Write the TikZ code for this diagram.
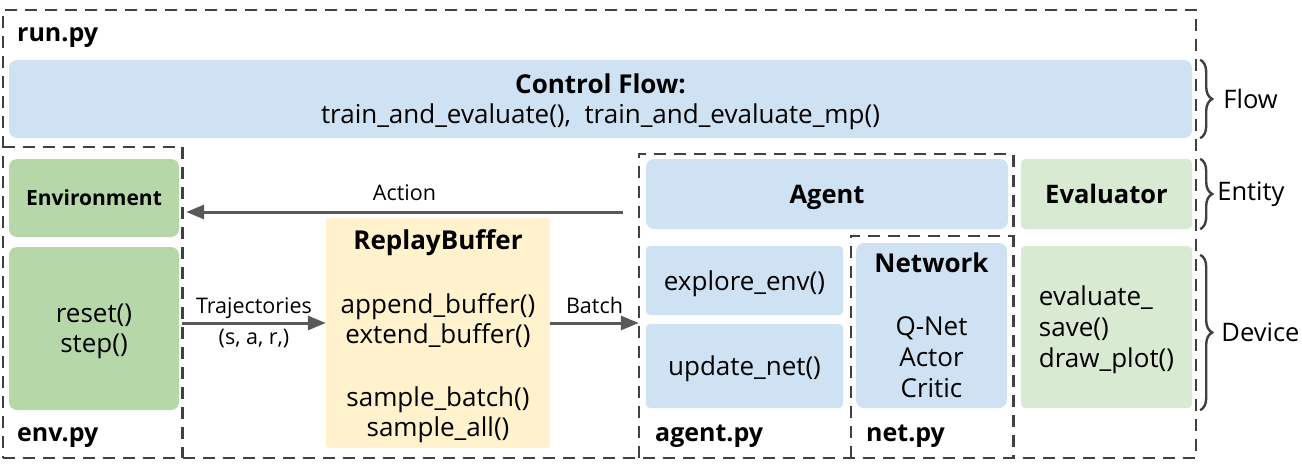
\documentclass[tikz,border=0pt]{standalone}
\usepackage{fontspec}
\setmainfont{Open Sans}
\usetikzlibrary{arrows.meta,decorations.pathreplacing,positioning}

\definecolor{flowblue}{HTML}{CFE2F3}
\definecolor{envgreen}{HTML}{B6D7A8}
\definecolor{evalgreen}{HTML}{D9EAD3}
\definecolor{bufyellow}{HTML}{FFF2CC}
\definecolor{linegray}{HTML}{404040}
\definecolor{arrgray}{HTML}{595959}

\tikzset{
  filebox/.style={draw=linegray, line width=2.6pt, dash pattern=on 12pt off 8pt, inner sep=0pt},
  scopebox/.style={inner sep=0pt},
  block/.style={rounded corners=8pt, inner sep=0pt, align=center, text depth=0pt, font=\fontsize{26}{30}\selectfont},
  filename/.style={anchor=base west, inner sep=0pt, font=\bfseries\fontsize{25}{30}\selectfont},
  flowarrow/.style={draw=arrgray, line width=3pt, -{Triangle[length=18pt,width=14pt]}},
  edgelabel/.style={inner sep=0pt, font=\fontsize{21.5}{26}\selectfont},
  sidebrace/.style={draw=linegray, line width=2.4pt, decorate, decoration={brace, amplitude=12pt}},
  sidelabel/.style={inner sep=0pt, font=\fontsize{25.5}{30}\selectfont},
}

\begin{document}
\begin{tikzpicture}[x=1pt, y=-1pt]
    \useasboundingbox (0,0) rectangle (1302,466);

    % file scopes
    \node[filebox, minimum width=1193, minimum height=448] (runpy) at (599.5,234) {};
    \node[scopebox, minimum width=179, minimum height=311] (envpy) at (92.5,302.5) {};
    \node[scopebox, minimum width=374, minimum height=304] (agentpy) at (826,306) {};
    \node[scopebox, minimum width=162, minimum height=222] (netpy) at (932,347) {};
    \draw[filebox] (envpy.north west) -- (envpy.north east) -- (envpy.south east);
    \draw[filebox] (agentpy.south west) -- (agentpy.north west) -- (agentpy.north east) -- (agentpy.south east);
    \draw[filebox] (netpy.south west) -- (netpy.north west) -- (netpy.north east);

    \node[filename] (runname) at (17,41) {run.py};
    \node[filename] (envname) at (17,441) {env.py};
    \node[filename] (agentname) at (655,441) {agent.py};
    \node[filename] (netname) at (866,441) {net.py};

    % flow
    \node[block, fill=flowblue, minimum width=1183, minimum height=78] (control) at (600.5,99)
        {\textbf{Control Flow:}\\train\_and\_evaluate(),\ \ train\_and\_evaluate\_mp()};

    % environment
    \node[block, fill=envgreen, minimum width=170, minimum height=78,
          font=\bfseries\fontsize{21}{26}\selectfont] (env) at (94,198) {Environment};
    \node[block, fill=envgreen, minimum width=170, minimum height=163] (envfn) at (94,328.5)
        {reset()\\step()};

    % replay buffer
    \node[block, fill=bufyellow, rounded corners=3pt, minimum width=224, minimum height=230] (replay) at (438,333)
        {\textbf{ReplayBuffer}\\[34pt]append\_buffer()\\extend\_buffer()\\[33pt]sample\_batch()\\sample\_all()};

    % agent
    \node[block, fill=flowblue, minimum width=362, minimum height=70,
          font=\bfseries\fontsize{25.5}{30}\selectfont] (agent) at (827,194) {Agent};
    \node[block, fill=flowblue, rounded corners=4pt, minimum width=197, minimum height=69] (explore) at (744.5,280.5)
        {explore\_env()};
    \node[block, fill=flowblue, rounded corners=4pt, minimum width=197, minimum height=84] (update) at (744.5,366)
        {update\_net()};
    \node[block, fill=flowblue, minimum width=151, minimum height=165,
          font=\fontsize{26}{31}\selectfont] (network) at (931.5,325.5)
        {\textbf{Network}\\[32pt]Q-Net\\Actor\\Critic};

    % evaluator
    \node[block, fill=evalgreen, rounded corners=4pt, minimum width=171, minimum height=70,
          font=\bfseries\fontsize{25.5}{30}\selectfont] (evaluator) at (1106.5,194) {Evaluator};
    \node[block, fill=evalgreen, rounded corners=4pt, minimum width=171, minimum height=162, align=left,
          font=\fontsize{26}{31}\selectfont] (evalfn) at (1106.5,327)
        {evaluate\_\\save()\\draw\_plot()};

    % data flow
    \coordinate (act) at (0,212);
    \coordinate (traj) at (0,323);
    \path (agentpy.west |- act) ++(-16,0) coordinate (actstart);
    \path (envpy.east |- act) ++(4,0) coordinate (actend);
    \draw[flowarrow] (actstart) -- (actend)
        node[edgelabel, midway, above=10pt] (actlbl) {Action};
    \draw[flowarrow] (envpy.east |- traj) -- (replay.west |- traj)
        node[edgelabel, midway, above=3pt] (trajlbl) {Trajectories}
        node[edgelabel, midway, below=5pt] (sarlbl) {(s, a, r,)};
    \draw[flowarrow] (replay.east |- traj) -- (agentpy.west |- traj)
        node[edgelabel, midway, above=8pt] (batchlbl) {Batch};

    % layers
    \draw[sidebrace] ([xshift=8]control.north east) -- ([xshift=8]control.south east)
        node[sidelabel, midway, right=22pt] (flowlbl) {Flow};
    \draw[sidebrace] ([xshift=8]evaluator.north east) -- ([xshift=8]evaluator.south east)
        node[sidelabel, midway, right=16pt] (entitylbl) {Entity};
    \draw[sidebrace] ([xshift=8,yshift=-9]evalfn.north east) -- ([xshift=8,yshift=-2]evalfn.south east)
        node[sidelabel, midway, right=20pt] (devicelbl) {Device};
\end{tikzpicture}
\end{document}
